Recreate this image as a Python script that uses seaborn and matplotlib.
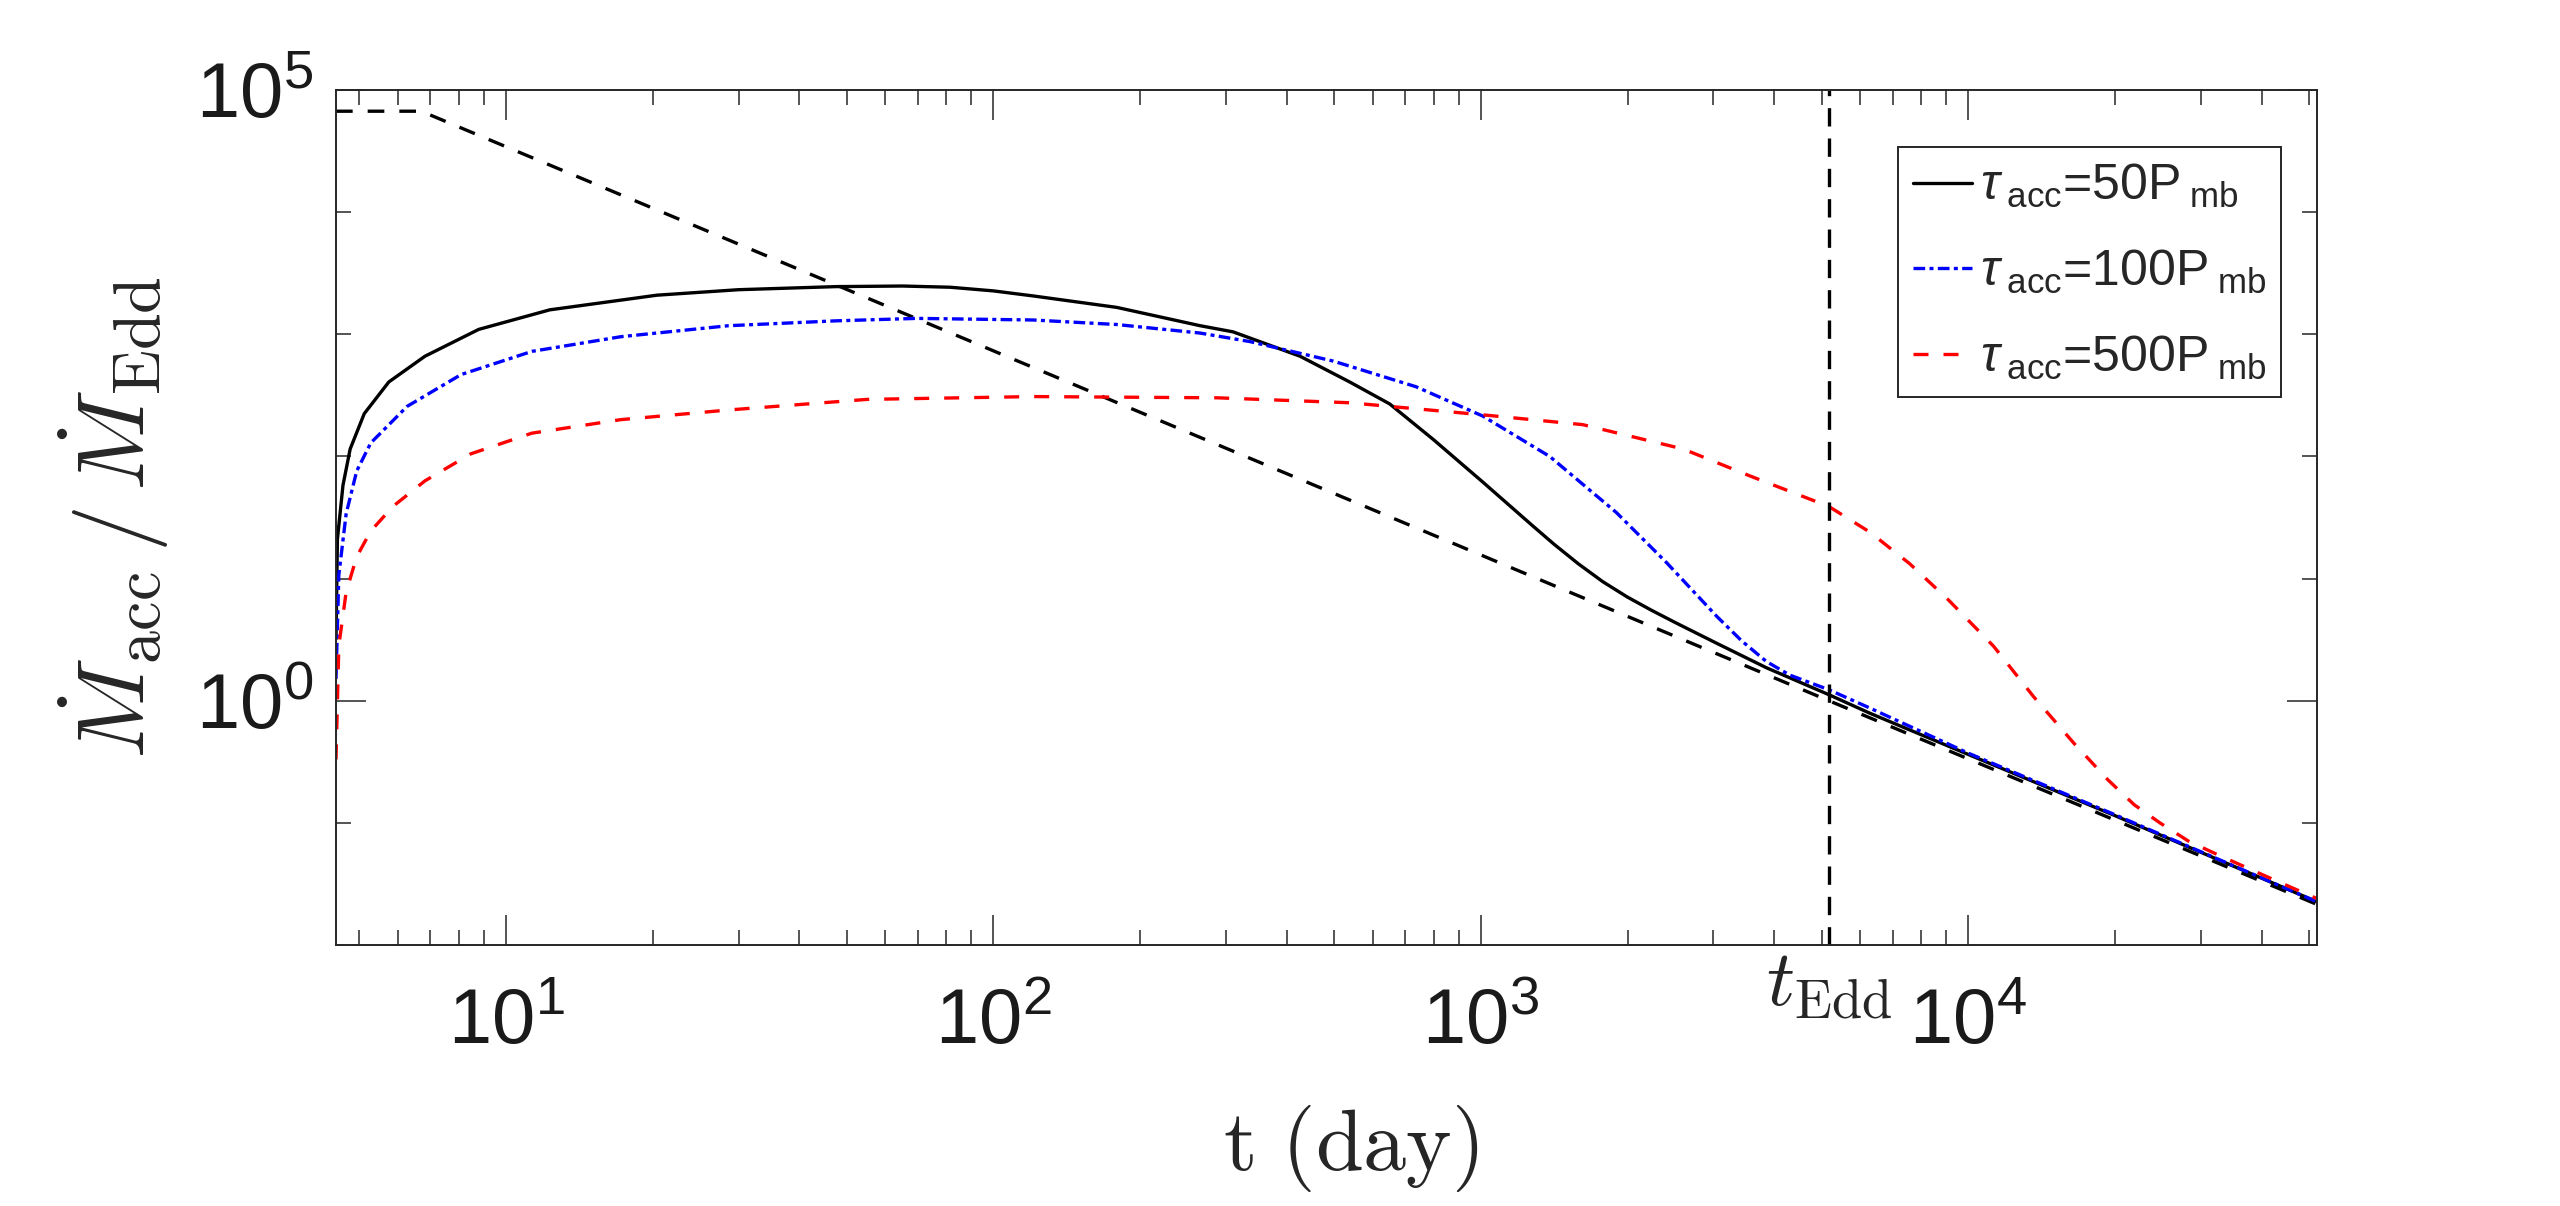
import numpy as np
import pandas as pd
import seaborn as sns
import matplotlib.pyplot as plt
import matplotlib.transforms as mtransforms
from matplotlib.ticker import FixedLocator, NullFormatter, LogLocator, LogFormatterMathtext

# values: t in days, Mdot / Mdot_Edd
t_50 = [4.48, 4.51, 4.63, 4.79, 5.12, 5.75, 6.82, 8.79, 12.3, 20.4, 30, 47.5, 65, 81.5,
        100, 120.5, 179, 265.5, 310, 425.6, 538, 650, 798, 1009, 1279, 1413, 1585,
        1778, 1995, 2239, 2512, 3048, 3855, 5176, 6281, 10000, 19950, 51900]
m_50 = [3.2, 21, 58, 115, 224, 407, 661, 1096, 1585, 2089, 2317, 2455, 2483, 2427,
        2265, 2061, 1660, 1175, 1047, 661, 407, 269, 138, 61.7, 26.9, 19.1, 13.2,
        9.44, 7.08, 5.50, 4.34, 2.95, 1.86, 1.12, 0.79, 0.363, 0.115, 0.0226]

t_100 = [4.48, 4.54, 4.70, 4.94, 5.28, 6.27, 8.09, 11.3, 17.2, 28.6, 47.5, 69.7, 120.5,
         179, 265.5, 336, 498, 736, 1009, 1384, 1897, 2404, 3048, 3428, 3855, 4305,
         5176, 6281, 10000, 19950, 51900]
m_100 = [1.51, 10.7, 33.9, 75.9, 129, 257, 468, 724, 955, 1175, 1288, 1349, 1309,
         1202, 1023, 871, 603, 372, 214, 100, 34.7, 13.5, 4.90, 3.09, 2.09, 1.62,
         1.23, 0.871, 0.372, 0.117, 0.0226]

t_500 = [4.48, 4.54, 4.70, 4.94, 5.28, 5.86, 6.82, 8.47, 11.3, 17.2, 28.6, 55.0, 120.5,
         287, 538, 1009, 1618, 2600, 3565, 5176, 6281, 7586, 9078, 11270, 13610, 16480,
         19360, 21880, 24720, 28310, 32430, 42560, 51900]
m_500 = [0.331, 2.82, 7.76, 15.1, 24.5, 38.9, 63.1, 105, 155, 200, 240, 293, 309,
         302, 275, 219, 182, 115, 69.2, 38.9, 24.0, 13.2, 6.76, 2.79, 1.08, 0.447,
         0.224, 0.141, 0.100, 0.0708, 0.0550, 0.0339, 0.024]

# fallback rate (black dashed), capped at early times
t_fb = [4.48, 6.7, 5176, 51900]
m_fb = [6.7e4, 6.7e4, 1.0, 0.0215]

t_edd = 5176

labels = [r'$\tau_{\;\rm acc}$=50P$_{\;\rm mb}$',
          r'$\tau_{\;\rm acc}$=100P$_{\;\rm mb}$',
          r'$\tau_{\;\rm acc}$=500P$_{\;\rm mb}$']

sns.set_style('ticks')
plt.rcParams['font.family'] = ['Liberation Sans', 'DejaVu Sans']
plt.rcParams['mathtext.fontset'] = 'custom'
plt.rcParams['mathtext.rm'] = 'Liberation Sans'
plt.rcParams['mathtext.it'] = 'Liberation Sans:italic'
plt.rcParams['mathtext.bf'] = 'Liberation Sans:bold'

fig = plt.figure(figsize=(12.8, 6.03), dpi=200)
ax = fig.add_axes([0.13125, 0.2164, 0.7738, 0.7090])
ax.set_xscale('log')
ax.set_yscale('log')

lw = 1.2
sns.lineplot(x=t_fb, y=m_fb, ax=ax, color='k', lw=lw, linestyle=(0, (5, 4.5)),
             estimator=None, sort=False)
sns.lineplot(x=t_50, y=m_50, ax=ax, color='k', lw=lw, linestyle='-',
             estimator=None, sort=False)
sns.lineplot(x=t_100, y=m_100, ax=ax, color='#0000ff', lw=lw,
             linestyle=(0, (3.5, 1.3, 1.2, 1.3)), estimator=None, sort=False)
sns.lineplot(x=t_500, y=m_500, ax=ax, color='#ff0000', lw=lw,
             linestyle=(0, (4.5, 4.5)), estimator=None, sort=False)
ax.axvline(t_edd, color='k', lw=lw, linestyle=(0, (5.5, 3.6)))

handles = ax.lines[1:4]

ax.set_xlim(4.48, 51900)
ax.set_ylim(1e-2, 1e5)

ax.xaxis.set_major_locator(LogLocator(base=10))
ax.xaxis.set_minor_locator(LogLocator(base=10, subs=np.arange(2, 10), numticks=20))
ax.xaxis.set_major_formatter(LogFormatterMathtext())
ax.xaxis.set_minor_formatter(NullFormatter())
ax.yaxis.set_major_locator(FixedLocator([1, 1e5]))
ax.yaxis.set_minor_locator(FixedLocator([1e-1, 1e1, 1e2, 1e3, 1e4]))
ax.yaxis.set_major_formatter(LogFormatterMathtext())
ax.yaxis.set_minor_formatter(NullFormatter())

edge = '0.15'
ax.tick_params(which='both', direction='in', top=True, right=True,
               color=edge, width=0.55, labelsize=28, labelcolor='0.1')
ax.tick_params(which='major', length=10.8)
ax.tick_params(which='minor', length=5.4)
ax.tick_params(axis='x', which='major', pad=15)
ax.tick_params(axis='y', which='major', pad=8.3)
for s in ax.spines.values():
    s.set_color(edge)
    s.set_linewidth(0.7)

ax.set_xlabel(r'$\rm t\ (day)$', fontsize=31, math_fontfamily='cm')
ax.xaxis.set_label_coords(0.512, -0.185)
ax.set_ylabel(r'$\dot{M}_{\rm acc}\,/\,\dot{M}_{\rm Edd}$', fontsize=34,
              math_fontfamily='cm')
ax.yaxis.set_label_coords(-0.0833, 0.5)

trans = mtransforms.blended_transform_factory(ax.transData, ax.transAxes)
ax.text(t_edd, -0.004, r'$t_{\rm Edd}$', transform=trans, ha='center', va='top',
        fontsize=28, math_fontfamily='cm')

leg = ax.legend(handles, labels, loc='upper right', bbox_to_anchor=(0.982, 0.933),
                fontsize=18, frameon=True, fancybox=False, framealpha=1,
                edgecolor=edge, handlelength=1.18, handletextpad=0.15,
                borderpad=0.3, borderaxespad=0, labelspacing=0.75)
leg.get_frame().set_linewidth(0.7)

fig.savefig('out.png', dpi=200, facecolor='white')
